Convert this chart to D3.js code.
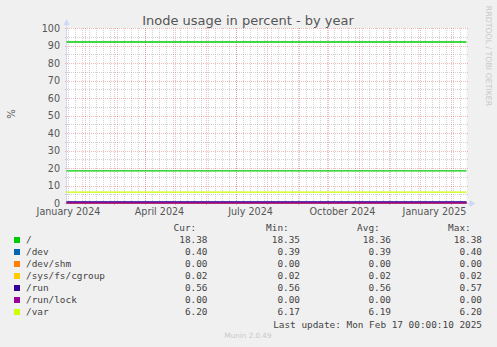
<!DOCTYPE html>
<html>
<head>
<meta charset="utf-8">
<script src="https://cdn.jsdelivr.net/npm/d3@7"></script>
<style>
  html, body { margin: 0; padding: 0; background: #f0f0f0; }
  svg { display: block; }
  .sans { font-family: "DejaVu Sans", sans-serif; }
  .mono { font-family: "DejaVu Sans Mono", monospace; }
</style>
</head>
<body>
<svg id="chart" width="497" height="347"></svg>
<script>
// sample times (UTC) and inode usage per filesystem, in percent
const sampleDates = ["2024-01-14", "2024-04-01", "2024-07-01", "2024-10-01", "2025-01-01", "2025-02-17"];
const rootFs      = [18.35, 18.35, 18.36, 18.36, 18.37, 18.38];
const devFs       = [0.39, 0.39, 0.39, 0.39, 0.40, 0.40];
const devShmFs    = [0.00, 0.00, 0.00, 0.00, 0.00, 0.00];
const cgroupFs    = [0.02, 0.02, 0.02, 0.02, 0.02, 0.02];
const runFs       = [0.56, 0.56, 0.56, 0.56, 0.57, 0.56];
const runLockFs   = [0.00, 0.00, 0.00, 0.00, 0.00, 0.00];
const varFs       = [6.17, 6.18, 6.19, 6.19, 6.20, 6.20];

const seriesNames  = ["/", "/dev", "/dev/shm", "/sys/fs/cgroup", "/run", "/run/lock", "/var"];
const seriesColors = ["#00cc00", "#0066b3", "#ff8000", "#ffcc00", "#330099", "#990099", "#ccff00"];
const seriesValues = [rootFs, devFs, devShmFs, cgroupFs, runFs, runLockFs, varFs];

const curStats = [18.38, 0.40, 0.00, 0.02, 0.56, 0.00, 6.20];
const minStats = [18.35, 0.39, 0.00, 0.02, 0.56, 0.00, 6.17];
const avgStats = [18.36, 0.39, 0.00, 0.02, 0.56, 0.00, 6.19];
const maxStats = [18.38, 0.40, 0.00, 0.02, 0.57, 0.00, 6.20];

const warningLevel = 92;
const yTicks = [0, 10, 20, 30, 40, 50, 60, 70, 80, 90, 100];
const endTime = new Date(Date.UTC(2025, 1, 17));
const startTime = new Date(endTime.getTime() - 400 * 86400000);

const svg = d3.select("#chart");
const W = 497, H = 347;
const plotLeft = 66.5, plotRight = 466.5, plotTop = 28, plotBottom = 203;

svg.append("rect").attr("width", W).attr("height", H).attr("fill", "#f0f0f0");
svg.append("rect").attr("x", plotLeft).attr("y", plotTop).attr("width", plotRight - plotLeft).attr("height", plotBottom - plotTop).attr("fill", "#fff");

const x = d3.scaleUtc().domain([startTime, endTime]).range([plotLeft, plotRight]);
const y = d3.scaleLinear().domain([0, 100]).range([plotBottom, plotTop]);

const grid = svg.append("g").attr("shape-rendering", "crispEdges").attr("stroke-dasharray", "1,1");
const minorColor = "rgba(143,143,143,0.4)";
const majorColor = "rgba(222,64,64,0.35)";

// minor grid: weeks and 5%
grid.selectAll(".vminor")
  .data(d3.utcMonday.range(startTime, endTime))
  .join("line")
  .attr("x1", d => Math.round(x(d)) + 0.5).attr("x2", d => Math.round(x(d)) + 0.5)
  .attr("y1", plotTop).attr("y2", plotBottom)
  .attr("stroke", minorColor);

grid.selectAll(".hminor")
  .data(d3.range(5, 100, 10))
  .join("line")
  .attr("x1", plotLeft - 2).attr("x2", plotRight + 2)
  .attr("y1", d => Math.round(y(d)) + 0.5).attr("y2", d => Math.round(y(d)) + 0.5)
  .attr("stroke", minorColor);

// major grid: months and 10%
grid.selectAll(".vmajor")
  .data(d3.utcMonth.range(startTime, endTime))
  .join("line")
  .attr("x1", d => Math.round(x(d)) + 0.5).attr("x2", d => Math.round(x(d)) + 0.5)
  .attr("y1", plotTop).attr("y2", plotBottom + 2)
  .attr("stroke", majorColor);

grid.selectAll(".hmajor")
  .data(yTicks.slice(1))
  .join("line")
  .attr("x1", plotLeft - 2).attr("x2", plotRight + 2)
  .attr("y1", d => Math.round(y(d)) + 0.5).attr("y2", d => Math.round(y(d)) + 0.5)
  .attr("stroke", majorColor);

// y tick labels
svg.append("g").attr("class", "sans")
  .selectAll("text")
  .data(yTicks)
  .join("text")
  .attr("x", 60).attr("y", d => y(d) + 3.5)
  .attr("text-anchor", "end")
  .attr("font-size", 9.6)
  .attr("fill", "#555")
  .text(d => d);

// x labels: quarterly, placed half a month past the tick like rrdtool
const labelMonths = d3.utcMonth.every(3).range(d3.utcMonth.floor(startTime), endTime);
svg.append("g").attr("class", "sans")
  .selectAll("text")
  .data(labelMonths)
  .join("text")
  .attr("x", d => x(d) + 15)
  .attr("y", 215)
  .attr("text-anchor", "middle")
  .attr("font-size", 9.6)
  .attr("fill", "#555")
  .text(d => d3.utcFormat("%B %Y")(d));

// axes
svg.append("line").attr("x1", plotLeft).attr("x2", plotLeft).attr("y1", plotBottom + 2).attr("y2", plotTop - 4)
  .attr("stroke", "#cfd6f8").attr("shape-rendering", "crispEdges");
svg.append("line").attr("x1", plotLeft - 3).attr("x2", plotRight + 4).attr("y1", plotBottom + 0.5).attr("y2", plotBottom + 0.5)
  .attr("stroke", "#cfd6f8").attr("shape-rendering", "crispEdges");
svg.append("path").attr("d", `M${plotLeft - 3},${plotTop - 3} L${plotLeft + 3},${plotTop - 3} L${plotLeft},${plotTop - 9} Z`).attr("fill", "#cfd6f8");
svg.append("path").attr("d", `M${plotRight + 3},${plotBottom - 3} L${plotRight + 3},${plotBottom + 4} L${plotRight + 9},${plotBottom + 0.5} Z`).attr("fill", "#cfd6f8");

// warning line
svg.append("line")
  .attr("x1", plotLeft).attr("x2", plotRight)
  .attr("y1", y(warningLevel)).attr("y2", y(warningLevel))
  .attr("stroke", "#00cc00").attr("stroke-width", 1.5);

// series
const line = d3.line()
  .x((d, i) => x(new Date(sampleDates[i] + "T00:00:00Z")))
  .y(d => y(d));

svg.append("g")
  .selectAll("path")
  .data(seriesValues)
  .join("path")
  .attr("d", line)
  .attr("fill", "none")
  .attr("stroke", (d, i) => seriesColors[i])
  .attr("stroke-width", 1.3);

// title and side texts
svg.append("text").attr("class", "sans")
  .attr("x", 248).attr("y", 24.5)
  .attr("text-anchor", "middle").attr("font-size", 13).attr("fill", "#555")
  .text("Inode usage in percent - by year");

svg.append("text").attr("class", "sans")
  .attr("transform", "translate(15,114) rotate(-90)")
  .attr("text-anchor", "middle").attr("font-size", 10).attr("fill", "#555")
  .text("%");

svg.append("text").attr("class", "sans")
  .attr("transform", "translate(486,56) rotate(90)")
  .attr("text-anchor", "middle").attr("font-size", 7.8).attr("fill", "#c8c8c8")
  .text("RRDTOOL / TOBI OETIKER");

// legend
const legend = svg.append("g").attr("class", "mono").attr("font-size", 9.4).attr("fill", "#444");
const colRight = [207.5, 300, 391, 482];
const colHeads = ["Cur:", "Min:", "Avg:", "Max:"];
const colData = [curStats, minStats, avgStats, maxStats];
const rowY = i => 243 + 12 * i;

legend.selectAll(".head")
  .data(colHeads)
  .join("text")
  .attr("x", (d, i) => colRight[i] - 11.3)
  .attr("y", 231)
  .attr("text-anchor", "end")
  .text(d => d);

seriesNames.forEach((name, i) => {
  legend.append("rect")
    .attr("x", 14).attr("y", rowY(i) - 6).attr("width", 6).attr("height", 6)
    .attr("fill", seriesColors[i]);
  legend.append("text").attr("x", 26).attr("y", rowY(i)).text(name);
  colData.forEach((col, c) => {
    legend.append("text")
      .attr("x", colRight[c]).attr("y", rowY(i))
      .attr("text-anchor", "end")
      .text(col[i].toFixed(2));
  });
});

legend.append("text")
  .attr("x", 482).attr("y", 328)
  .attr("text-anchor", "end")
  .text("Last update: Mon Feb 17 00:00:10 2025");

svg.append("text").attr("class", "sans")
  .attr("x", 248).attr("y", 338)
  .attr("text-anchor", "middle").attr("font-size", 7.2).attr("fill", "#c8c8c8")
  .text("Munin 2.0.49");
</script>
</body>
</html>
